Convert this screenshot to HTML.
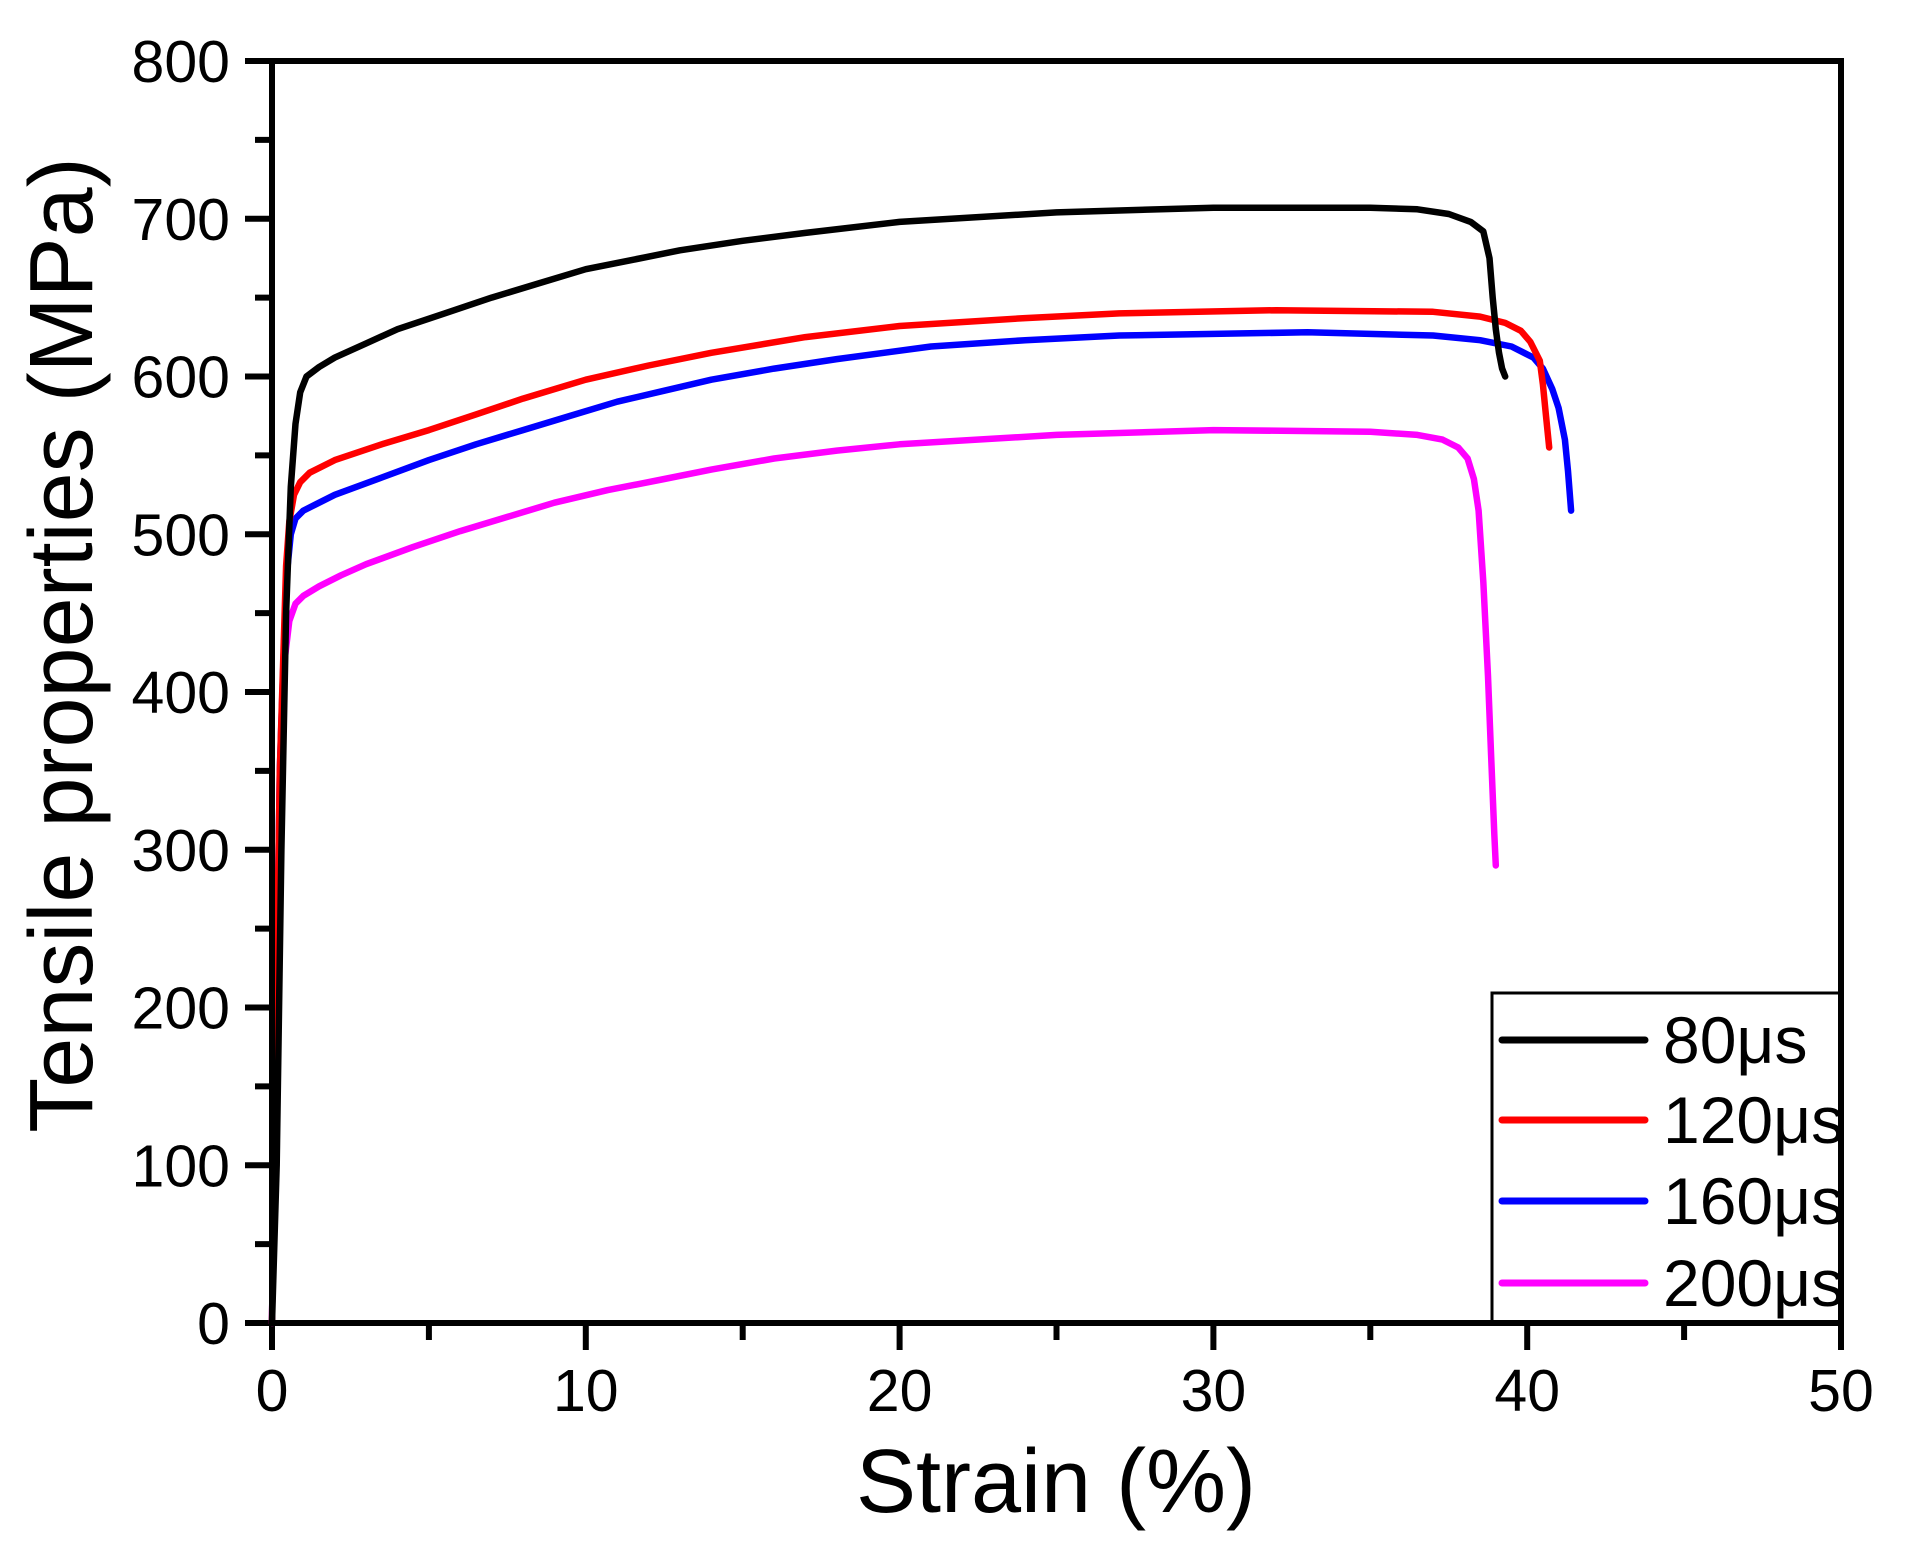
<!DOCTYPE html>
<html><head><meta charset="utf-8"><style>
html,body{margin:0;padding:0;background:#fff;}
svg{display:block;font-family:"Liberation Sans",Arial,sans-serif;}
</style></head><body>
<svg id="s" width="1905" height="1550" viewBox="0 0 1905 1550" xmlns="http://www.w3.org/2000/svg">
<g id="ticks" stroke="#000" stroke-width="6"></g>
<g id="curves" fill="none" stroke-width="6.5" stroke-linejoin="round" stroke-linecap="round"></g>
<rect x="1492" y="993" width="349" height="330" fill="#fff" stroke="#000" stroke-width="3"/>
<g stroke-width="7" stroke-linecap="round">
<line x1="1502" y1="1040" x2="1645" y2="1040" stroke="#000"/>
<line x1="1502" y1="1120" x2="1645" y2="1120" stroke="#f00"/>
<line x1="1502" y1="1201" x2="1645" y2="1201" stroke="#00f"/>
<line x1="1502" y1="1283" x2="1645" y2="1283" stroke="#f0f"/>
</g>
<g font-size="66" fill="#000">
<text x="1663" y="1063">80μs</text>
<text x="1663" y="1143">120μs</text>
<text x="1663" y="1224">160μs</text>
<text x="1663" y="1306">200μs</text>
</g>
<rect x="272" y="61" width="1569" height="1262" fill="none" stroke="#000" stroke-width="6"/>
<g id="labels" font-size="59" fill="#000"></g>
<text x="1056" y="1512" font-size="90" text-anchor="middle">Strain (%)</text>
<text transform="translate(92,645) rotate(-90)" font-size="90" text-anchor="middle">Tensile properties (MPa)</text>
</svg>
<script>
const X0=272,X1=1841,Y0=1323,Y1=61;
const fx=v=>X0+(X1-X0)*v/50, fy=v=>Y0-(Y0-Y1)*v/800;
const ns="http://www.w3.org/2000/svg";
const T=document.getElementById('ticks'),L=document.getElementById('labels'),C=document.getElementById('curves');
function el(p,tag,a,txt){const e=document.createElementNS(ns,tag);for(const k in a)e.setAttribute(k,a[k]);if(txt!==undefined)e.textContent=txt;p.appendChild(e);}
for(let v=0;v<=50;v+=5){const x=fx(v);el(T,'line',{x1:x,y1:Y0,x2:x,y2:Y0+(v%10==0?27:17)});
 if(v%10==0)el(L,'text',{x:x,y:1411,'text-anchor':'middle'},v);}
for(let v=0;v<=800;v+=50){const y=fy(v);el(T,'line',{x1:X0,y1:y,x2:X0-(v%100==0?27:17),y2:y});
 if(v%100==0)el(L,'text',{x:230,y:y+21,'text-anchor':'end'},v);}
const D={
'#000':[[0,0],[0.15,100],[0.3,300],[0.45,450],[0.6,530],[0.75,570],[0.9,590],[1.1,600],[1.5,606],[2,612],[3,621],[4,630],[5.5,640],[7,650],[8.5,659],[10,668],[11.5,674],[13,680],[15,686],[17,691],[20,698],[25,704],[30,707],[35,707],[36.5,706],[37.5,703],[38.2,698],[38.6,692],[38.8,675],[38.9,650],[39.0,630],[39.1,615],[39.2,605],[39.3,600]],
'#f00':[[0,0],[0.1,150],[0.25,350],[0.45,480],[0.55,508],[0.7,525],[0.9,533],[1.2,539],[2,547],[3.5,557],[5,566],[6.5,576],[8,586],[10,598],[12,607],[14,615],[17,625],[20,632],[24,637],[27,640],[32,642],[37,641],[38.5,638],[39.3,634],[39.8,629],[40.1,622],[40.4,610],[40.5,595],[40.6,575],[40.7,555]],
'#00f':[[0,0],[0.1,150],[0.25,350],[0.45,470],[0.6,500],[0.75,510],[1,515],[1.4,519],[2,525],[3.5,536],[5,547],[6.5,557],[8,566],[9.5,575],[11,584],[12.5,591],[14,598],[16,605],[18,611],[21,619],[24,623],[27,626],[33,628],[37,626],[38.5,623],[39.5,619],[40.2,612],[40.5,605],[40.8,592],[41,580],[41.2,560],[41.3,540],[41.4,515]],
'#f0f':[[0,0],[0.1,150],[0.25,330],[0.4,420],[0.55,445],[0.75,456],[1,461],[1.5,467],[2.2,474],[3,481],[4.5,492],[6,502],[7.5,511],[9,520],[10.7,528],[12.5,535],[14,541],[16,548],[18,553],[20,557],[25,563],[30,566],[35,565],[36.5,563],[37.3,560],[37.8,555],[38.1,548],[38.3,535],[38.45,515],[38.6,470],[38.75,410],[38.85,360],[38.95,310],[39,290]]};
for(const c of ['#f0f','#00f','#f00','#000']){el(C,'polyline',{stroke:c,points:D[c].map(p=>fx(p[0]).toFixed(1)+','+fy(p[1]).toFixed(1)).join(' ')});}
</script>
</body></html>
